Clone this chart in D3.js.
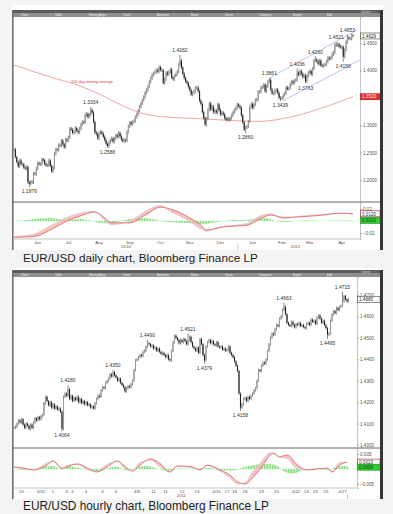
<!DOCTYPE html>
<html>
<head>
<meta charset="utf-8">
<script src="https://cdn.jsdelivr.net/npm/d3@7"></script>
<style>
  html, body { margin: 0; padding: 0; background: #f4f4f4; }
  svg { display: block; }
  text { font-family: "Liberation Sans", Arial, sans-serif; }
</style>
</head>
<body>
<svg id="chart" width="393" height="514"></svg>
<script>
// ---------- daily chart data ----------
const dailyStart = "2010-05-21";
const dailyClose = [
  1.2560,
  1.2420, 1.2330, 1.2250, 1.2360, 1.2290,   // May 24
  1.2290, 1.2230, 1.2210, 1.2240, 1.1960,   // May 31
  1.1930, 1.1970, 1.1960, 1.2120, 1.2110,   // Jun 7
  1.2210, 1.2310, 1.2290, 1.2290, 1.2380,   // Jun 14
  1.2360, 1.2290, 1.2270, 1.2270, 1.2360,   // Jun 21
  1.2260, 1.2160, 1.2230, 1.2480, 1.2560,   // Jun 28
  1.2550, 1.2640, 1.2630, 1.2720, 1.2650,   // Jul 5
  1.2600, 1.2740, 1.2720, 1.2780, 1.2940,   // Jul 12
  1.2920, 1.2860, 1.2880, 1.2950, 1.2900,   // Jul 19
  1.2870, 1.2940, 1.3020, 1.3060, 1.3050,   // Jul 26
  1.3190, 1.3210, 1.3150, 1.3190, 1.3280,   // Aug 2
  1.3230, 1.3060, 1.2870, 1.2840, 1.2760,   // Aug 9
  1.2860, 1.2880, 1.2850, 1.2790, 1.2730,   // Aug 16
  1.2660, 1.2620, 1.2680, 1.2730, 1.2760,   // Aug 23
  1.2700, 1.2760, 1.2820, 1.2790, 1.2860,   // Aug 30
  1.2800, 1.2740, 1.2710, 1.2730, 1.2720,   // Sep 6
  1.2880, 1.2980, 1.3050, 1.3020, 1.3060,   // Sep 13
  1.3080, 1.3150, 1.3200, 1.3270, 1.3340,   // Sep 20
  1.3400, 1.3460, 1.3520, 1.3600, 1.3640,   // Sep 27
  1.3710, 1.3790, 1.3860, 1.3920, 1.3950,   // Oct 4
  1.3970, 1.4010, 1.3980, 1.4060, 1.4010,   // Oct 11
  1.4000, 1.3770, 1.3840, 1.3960, 1.3930,   // Oct 18
  1.3970, 1.4020, 1.3870, 1.3840, 1.3900,   // Oct 25
  1.3930, 1.3980, 1.4110, 1.4180, 1.4050,   // Nov 1
  1.3940, 1.3860, 1.3800, 1.3770, 1.3700,   // Nov 8
  1.3640, 1.3560, 1.3590, 1.3620, 1.3680,   // Nov 15
  1.3690, 1.3620, 1.3450, 1.3390, 1.3240,   // Nov 22
  1.3130, 1.3010, 1.3120, 1.3280, 1.3400,   // Nov 29
  1.3290, 1.3340, 1.3240, 1.3270, 1.3230,   // Dec 6
  1.3380, 1.3280, 1.3200, 1.3230, 1.3200,   // Dec 13
  1.3130, 1.3100, 1.3120, 1.3100, 1.3130,   // Dec 20
  1.3180, 1.3240, 1.3280, 1.3310, 1.3380,   // Dec 27
  1.3350, 1.3320, 1.3180, 1.3050, 1.2920,   // Jan 3
  1.2960, 1.2980, 1.3070, 1.3330, 1.3390,   // Jan 10
  1.3320, 1.3380, 1.3460, 1.3470, 1.3610,   // Jan 17
  1.3610, 1.3690, 1.3700, 1.3740, 1.3620,   // Jan 24
  1.3710, 1.3800, 1.3830, 1.3650, 1.3580,   // Jan 31
  1.3580, 1.3630, 1.3650, 1.3590, 1.3500,   // Feb 7
  1.3490, 1.3500, 1.3550, 1.3580, 1.3690,   // Feb 14
  1.3660, 1.3680, 1.3750, 1.3800, 1.3770,   // Feb 21
  1.3810, 1.3830, 1.3960, 1.3920, 1.3990,   // Feb 28
  1.3940, 1.3880, 1.3910, 1.3800, 1.3900,   // Mar 7
  1.3960, 1.3990, 1.3930, 1.4030, 1.4180,   // Mar 14
  1.4200, 1.4170, 1.4120, 1.4180, 1.4090,   // Mar 21
  1.4080, 1.4100, 1.4110, 1.4160, 1.4230,   // Mar 28
  1.4210, 1.4230, 1.4300, 1.4330, 1.4470,   // Apr 4
  1.4460, 1.4480, 1.4440, 1.4420, 1.4430,   // Apr 11
  1.4250, 1.4370, 1.4520, 1.4600, 1.4580,   // Apr 18
  1.4580, 1.4640, 1.4629                    // Apr 25
];
// labelled highs / lows: [bar index, value, side]
const dailyMarks = [
  [11, 1.1876, "below"], [55, 1.3334, "above"], [67, 1.2588, "below"],
  [119, 1.4282, "above"], [166, 1.2860, "below"], [183, 1.3861, "above"],
  [191, 1.3439, "below"], [203, 1.4036, "above"], [209, 1.3763, "below"],
  [216, 1.4260, "above"], [231, 1.4521, "above"], [236, 1.4158, "below"],
  [239, 1.4653, "above"]
];
const dailyMAIdx = [0, 26, 47, 62, 76, 90, 105, 133, 162, 176, 198, 227, 243];
const dailyMA    = [1.410, 1.388, 1.372, 1.356, 1.338, 1.323, 1.316, 1.312, 1.308, 1.307, 1.315, 1.337, 1.352];
const dailyChannels = [[[183, 1.3861], [246, 1.4740]], [[193, 1.3450], [248, 1.4190]]];
const dailyPriceTicks = [1.20, 1.25, 1.30, 1.40, 1.45];
const dailyIndIdx = [0, 14, 26, 38, 47, 58, 65, 70, 83, 94, 105, 112, 119, 126, 133, 138, 144, 150, 167, 176, 184, 193, 205, 222, 234, 243];
const dailySignal = [-0.027, -0.026, -0.015, 0.000, 0.008, 0.015, 0.005, -0.003, -0.003, 0.010, 0.023, 0.020, 0.014, 0.005, -0.005, -0.015, -0.013, -0.010, -0.007, 0.003, 0.010, 0.006, 0.007, 0.010, 0.013, 0.012];
const dailyMacd   = [-0.026, -0.022, -0.008, 0.006, 0.013, 0.016, 0.001, -0.006, 0.000, 0.016, 0.026, 0.016, 0.008, -0.001, -0.012, -0.017, -0.012, -0.009, -0.004, 0.008, 0.012, 0.004, 0.008, 0.011, 0.013, 0.012];
const dailyHistIdx = [0, 11, 19, 26, 33, 40, 47, 54, 62, 69, 76, 87, 94, 101, 108, 119, 130, 137, 144, 151, 158, 166, 173, 180, 187, 194, 201, 212, 223, 234, 243];
const dailyHist    = [0, 0.002, 0.004, 0.005, 0.003, 0.002, 0.003, 0.001, -0.003, -0.004, 0, 0.004, 0.005, 0.002, -0.001, -0.003, -0.004, -0.005, -0.002, 0, 0.002, 0.001, 0.004, 0.005, 0, -0.002, 0, 0.001, 0, 0.001, 0.001];
const dailyIndTicks = [-0.02, 0.02];

// ---------- hourly chart data ----------
const hourlyClose = [
  1.4080, 1.4085, 1.4100, 1.4115, 1.4105, 1.4120, 1.4095, 1.4080, 1.4100, 1.4090,
  1.4075, 1.4095, 1.4080, 1.4105, 1.4125, 1.4115, 1.4130, 1.4120, 1.4135, 1.4140,
  1.4195, 1.4225, 1.4205, 1.4185, 1.4200, 1.4175, 1.4190, 1.4170, 1.4180, 1.4165,
  1.4170, 1.4155, 1.4075, 1.4225, 1.4240, 1.4230, 1.4260, 1.4215, 1.4230, 1.4205,
  1.4220, 1.4210, 1.4225, 1.4200, 1.4215, 1.4195, 1.4205, 1.4190, 1.4200, 1.4185,
  1.4190, 1.4175, 1.4180, 1.4170, 1.4195, 1.4215, 1.4230, 1.4225, 1.4255, 1.4270,
  1.4265, 1.4290, 1.4300, 1.4310, 1.4330, 1.4320, 1.4340, 1.4325, 1.4315, 1.4300,
  1.4310, 1.4290, 1.4280, 1.4270, 1.4250, 1.4265, 1.4275, 1.4270, 1.4285, 1.4300,
  1.4350, 1.4395, 1.4400, 1.4410, 1.4420, 1.4415, 1.4435, 1.4440, 1.4460, 1.4475,
  1.4470, 1.4460, 1.4465, 1.4450, 1.4455, 1.4440, 1.4450, 1.4435, 1.4425, 1.4430,
  1.4420, 1.4410, 1.4420, 1.4400, 1.4395, 1.4440, 1.4480, 1.4510, 1.4500, 1.4490,
  1.4475, 1.4490, 1.4480, 1.4495, 1.4485, 1.4470, 1.4490, 1.4505, 1.4480, 1.4460,
  1.4450, 1.4440, 1.4455, 1.4430, 1.4495, 1.4470, 1.4420, 1.4395, 1.4460, 1.4480,
  1.4490, 1.4475, 1.4485, 1.4470, 1.4465, 1.4480, 1.4460, 1.4455, 1.4460, 1.4445,
  1.4450, 1.4440, 1.4445, 1.4460, 1.4430, 1.4420, 1.4410, 1.4390, 1.4370, 1.4345,
  1.4240, 1.4175, 1.4190, 1.4215, 1.4220, 1.4205, 1.4225, 1.4215, 1.4230, 1.4240,
  1.4255, 1.4265, 1.4300, 1.4350, 1.4345, 1.4370, 1.4385, 1.4380, 1.4400, 1.4440,
  1.4470, 1.4500, 1.4520, 1.4515, 1.4540, 1.4560, 1.4555, 1.4590, 1.4600, 1.4630,
  1.4645, 1.4610, 1.4570, 1.4560, 1.4555, 1.4575, 1.4560, 1.4550, 1.4565, 1.4560,
  1.4570, 1.4555, 1.4560, 1.4550, 1.4545, 1.4565, 1.4570, 1.4560, 1.4585, 1.4575,
  1.4580, 1.4565, 1.4595, 1.4605, 1.4590, 1.4570, 1.4580, 1.4560, 1.4545, 1.4515,
  1.4520, 1.4580, 1.4610, 1.4625, 1.4615, 1.4640, 1.4630, 1.4645, 1.4650, 1.4670,
  1.4695, 1.4680, 1.4670, 1.4680
];
const hourlyMarks = [
  [32, 1.4064, "below"], [36, 1.4280, "above"], [66, 1.4350, "above"],
  [89, 1.4490, "above"], [116, 1.4521, "above"], [127, 1.4379, "below"],
  [151, 1.4158, "below"], [180, 1.4663, "above"], [209, 1.4495, "below"],
  [219, 1.4715, "above"]
];
const hourlyTicks = [
  ["20", 5], ["3/31", 18], ["1", 26], ["3", 35], ["4", 39], ["4", 48], ["4", 59], ["6", 68],
  ["4/8", 82], ["11", 93], ["11", 101], ["12", 112], ["13", 122], ["4/15", 135], ["17", 142],
  ["18", 147], ["18", 154], ["19", 165], ["20", 175], ["4/22", 188], ["24", 195], ["25", 201],
  ["25", 208], ["4/27", 219]
];
const hourlyPriceTicks = [1.40, 1.41, 1.42, 1.43, 1.44, 1.45, 1.46, 1.47];
const hourlyIndIdx = [0, 6, 13, 22, 26, 32, 35, 42, 49, 55, 62, 69, 73, 79, 84, 91, 97, 104, 109, 119, 124, 129, 135, 139, 144, 149, 154, 159, 165, 171, 173, 177, 182, 189, 195, 202, 209, 212, 217, 222];
const hourlySignal = [0.0007, 0.0003, -0.0003, 0.0013, 0.0027, 0.0003, 0.0007, 0.0017, 0.0003, -0.0010, 0.0007, 0.0027, 0.0013, -0.0007, 0.0013, 0.0033, 0.0020, -0.0010, 0.0010, 0.0007, -0.0003, 0.0013, 0.0003, -0.0007, -0.0020, -0.0043, -0.0050, -0.0030, 0.0007, 0.0047, 0.0053, 0.0040, 0.0047, 0.0013, -0.0003, 0.0000, 0.0003, -0.0010, 0.0013, 0.0023];
const hourlyMacd   = [0.0008, 0.0000, -0.0002, 0.0020, 0.0025, -0.0002, 0.0012, 0.0015, -0.0002, -0.0008, 0.0015, 0.0025, 0.0005, -0.0004, 0.0022, 0.0030, 0.0008, -0.0010, 0.0010, 0.0004, -0.0002, 0.0012, -0.0002, -0.0012, -0.0030, -0.0050, -0.0045, -0.0010, 0.0025, 0.0055, 0.0050, 0.0040, 0.0035, 0.0000, -0.0003, 0.0002, 0.0001, -0.0008, 0.0022, 0.0023];
const hourlyHistIdx = [0, 10, 20, 26, 32, 36, 42, 50, 57, 62, 68, 75, 82, 89, 95, 103, 110, 120, 130, 140, 148, 155, 163, 170, 176, 180, 186, 192, 200, 210, 215, 220, 223];
const hourlyHist    = [0, -0.0003, 0.0008, 0.0010, -0.0003, 0.0010, 0.0004, -0.0003, -0.0008, 0.0002, 0.0008, -0.0005, 0.0006, 0.0010, 0.0002, -0.0006, 0.0002, 0.0001, 0.0003, -0.0005, -0.0003, 0.0008, 0.0015, 0.0017, 0.0008, -0.0008, -0.0015, -0.0005, 0.0001, -0.0004, 0.0008, 0.0010, 0.0006];
const hourlyIndTicks = [-0.005, 0.005];

const toolbarLabels = ["Chart", "Table", "Moving Avgs", "Track", "Annotate", "News", "Zoom", "Compare", "Export", "Edit"];

const svg = d3.select("#chart");
const fmt4 = d3.format(".4f");
const defs = svg.append("defs");

// hatch for the histogram
defs.append("pattern").attr("id", "hatch").attr("patternUnits", "userSpaceOnUse")
  .attr("width", 1.6).attr("height", 10)
  .append("rect").attr("width", 0.7).attr("height", 10).attr("fill", "#6ad86a");

function drawChart(c) {
  const g = svg.append("g");
  const W = c.right - c.left;

  g.append("rect").attr("x", c.left).attr("y", c.top).attr("width", W).attr("height", c.bottom - c.top).attr("fill", "#fff");

  // toolbar
  g.append("rect").attr("x", c.left + 1).attr("y", c.toolbarY).attr("width", W - 1).attr("height", 3).attr("fill", "#5c5c5c");
  g.append("rect").attr("x", c.left + 1).attr("y", c.toolbarY + 3).attr("width", W - 1).attr("height", 4).attr("fill", "#8f8f8f");
  toolbarLabels.forEach((t, k) => {
    g.append("text").attr("x", c.left + 9 + k * 34).attr("y", c.toolbarY + 6.2)
      .attr("font-size", 3).attr("fill", "#eeeeee").text(t);
  });
  g.append("text").attr("x", c.right - 22).attr("y", c.toolbarY + 2.5)
    .attr("font-size", 2.8).attr("fill", "#dddddd").text("Options  ▫ ▫ ▫");

  // borders
  g.append("rect").attr("x", c.left).attr("y", c.toolbarY).attr("width", 1.6).attr("height", c.bottom - c.toolbarY).attr("fill", "#6f6f6f");
  g.append("rect").attr("x", c.right - 3).attr("y", c.toolbarY).attr("width", 3).attr("height", c.bottom - c.toolbarY).attr("fill", "#363636");

  const x = d3.scaleLinear().domain([0, c.closes.length - 1]).range(c.xRange);
  const y = d3.scaleLinear().domain(c.priceDomain).range([c.plotBottom, c.plotTop]);
  const yi = d3.scaleLinear().domain(c.indDomain).range([c.indBottom, c.plotBottom]);

  const clipId = "clip" + c.id;
  defs.append("clipPath").attr("id", clipId).append("rect")
    .attr("x", c.left + 1.6).attr("y", c.plotTop).attr("width", c.axisX - c.left - 1.6).attr("height", c.plotBottom - c.plotTop);
  const plot = g.append("g").attr("clip-path", `url(#${clipId})`);

  // moving average
  if (c.ma) {
    const maPts = c.maIdx.map((d, k) => [d, c.ma[k]]);
    plot.append("path").datum(maPts)
      .attr("d", d3.line().x(d => x(d[0])).y(d => y(d[1])).curve(d3.curveMonotoneX))
      .attr("fill", "none").attr("stroke", "#f3a4a4").attr("stroke-width", 1.0);
    // label
    const li = 56;
    const k = d3.bisectLeft(c.maIdx, li);
    const t = (li - c.maIdx[k - 1]) / (c.maIdx[k] - c.maIdx[k - 1]);
    const mv = c.ma[k - 1] + t * (c.ma[k] - c.ma[k - 1]);
    g.append("text").attr("x", x(li)).attr("y", y(mv) - 8).attr("text-anchor", "middle")
      .attr("font-size", 3.8).attr("fill", "#e23a3a").text("200 day moving average");
  }

  // channel lines
  (c.channels || []).forEach(ch => {
    plot.append("line")
      .attr("x1", x(ch[0][0])).attr("y1", y(ch[0][1]))
      .attr("x2", x(ch[1][0])).attr("y2", y(ch[1][1]))
      .attr("stroke", "#a8a8e6").attr("stroke-width", 0.7);
  });

  // candles
  const markAt = new Map(c.marks.map(m => [m[0], m]));
  const bars = c.closes.map((cl, i) => {
    const o = i ? c.closes[i - 1] : cl;
    let hi = Math.max(o, cl) + c.wick, lo = Math.min(o, cl) - c.wick;
    const m = markAt.get(i);
    if (m) { if (m[2] === "above") hi = Math.max(hi, m[1]); else lo = Math.min(lo, m[1]); }
    return { i, o, c: cl, hi, lo };
  });
  plot.selectAll(".wick").data(bars).join("line")
    .attr("x1", d => x(d.i)).attr("x2", d => x(d.i))
    .attr("y1", d => y(d.hi)).attr("y2", d => y(d.lo))
    .attr("stroke", "#3a3a3a").attr("stroke-width", 0.6);
  plot.selectAll(".body").data(bars).join("rect")
    .attr("x", d => x(d.i) - 0.55).attr("width", 1.1)
    .attr("y", d => y(Math.max(d.o, d.c)))
    .attr("height", d => Math.max(0.6, y(Math.min(d.o, d.c)) - y(Math.max(d.o, d.c))))
    .attr("fill", d => d.c >= d.o ? "#9a9a9a" : "#1e1e1e");

  // high / low labels
  g.selectAll(".mark").data(c.marks).join("text")
    .attr("x", d => x(d[0])).attr("y", d => d[2] === "above" ? y(d[1]) - 2.6 : y(d[1]) + 6.2)
    .attr("text-anchor", "middle").attr("font-size", 5).attr("fill", "#333")
    .text(d => fmt4(d[1]));

  // dividers
  g.append("line").attr("x1", c.left + 1).attr("x2", c.right - 3).attr("y1", c.plotBottom).attr("y2", c.plotBottom)
    .attr("stroke", "#555").attr("stroke-width", 0.9);
  g.append("line").attr("x1", c.left + 1).attr("x2", c.axisX).attr("y1", c.indBottom).attr("y2", c.indBottom)
    .attr("stroke", "#9a9a9a").attr("stroke-width", 0.6);

  // price axis
  const ax = g.append("g").attr("transform", `translate(${c.axisX},0)`)
    .call(d3.axisRight(y).tickValues(c.priceTicks).tickSize(2).tickPadding(1).tickFormat(fmt4));
  ax.select(".domain").attr("stroke", "#9a9a9a").attr("stroke-width", 0.6);
  ax.selectAll(".tick line").attr("stroke", "#777").attr("stroke-width", 0.5);
  ax.selectAll(".tick text").attr("font-size", 4.6).attr("fill", "#555").attr("font-family", "Liberation Sans, Arial, sans-serif");

  const boxW = c.right - 3 - c.axisX - 0.5;
  function valueBox(v, scale, fill, stroke, color) {
    const yy = scale(v);
    g.append("rect").attr("x", c.axisX + 0.5).attr("y", yy - 3).attr("width", boxW).attr("height", 6)
      .attr("fill", fill).attr("stroke", stroke).attr("stroke-width", 0.6);
    g.append("text").attr("x", c.axisX + 2).attr("y", yy + 1.7).attr("font-size", 4.6).attr("fill", color).text(fmt4(v));
  }
  if (c.ma) valueBox(c.ma[c.ma.length - 1], y, "#e8312f", "#9c1a1a", "#ffe0e0");
  valueBox(c.closes[c.closes.length - 1], y, "#ffffff", "#444", "#222");

  // indicator panel
  const ind = g.append("g");
  ind.append("line").attr("x1", c.left + 2).attr("x2", c.axisX).attr("y1", yi(0)).attr("y2", yi(0))
    .attr("stroke", "#9be49b").attr("stroke-width", 0.5).attr("stroke-dasharray", "1,1");
  const histPts = c.histIdx.map((d, k) => [d, c.hist[k]]);
  const histArea = d3.area().x(d => x(d[0])).y0(yi(0)).y1(d => yi(d[1])).curve(d3.curveMonotoneX);
  ind.append("path").datum(histPts).attr("d", histArea).attr("fill", "#d4f5cf");
  ind.append("path").datum(histPts).attr("d", histArea).attr("fill", "url(#hatch)");
  const pts = c.indIdx.map((d, k) => ({ i: d, s: c.signal[k], m: c.macd[k] }));
  ind.append("path").datum(pts)
    .attr("d", d3.area().x(d => x(d.i)).y0(d => yi(d.s)).y1(d => yi(d.m)).curve(d3.curveMonotoneX))
    .attr("fill", "#f3b9b9").attr("opacity", 0.85);
  ind.append("path").datum(pts)
    .attr("d", d3.line().x(d => x(d.i)).y(d => yi(d.m)).curve(d3.curveMonotoneX))
    .attr("fill", "none").attr("stroke", "#d2d2d2").attr("stroke-width", 0.9);
  ind.append("path").datum(pts)
    .attr("d", d3.line().x(d => x(d.i)).y(d => yi(d.s)).curve(d3.curveMonotoneX))
    .attr("fill", "none").attr("stroke", "#ea6a6a").attr("stroke-width", 0.9);

  const iax = g.append("g").attr("transform", `translate(${c.axisX},0)`)
    .call(d3.axisRight(yi).tickValues(c.indTicks).tickSize(2).tickPadding(1).tickFormat(d3.format(c.indFmt)));
  iax.select(".domain").attr("stroke", "#9a9a9a").attr("stroke-width", 0.6);
  iax.selectAll(".tick line").attr("stroke", "#777").attr("stroke-width", 0.5);
  iax.selectAll(".tick text").attr("font-size", 4.6).attr("fill", "#555").attr("font-family", "Liberation Sans, Arial, sans-serif");
  valueBox(c.signal[c.signal.length - 1], yi, "#ffffff", "#8a1e1e", "#333");
  valueBox(c.hist[c.hist.length - 1], yi, "#2fd12f", "#1c8a1c", "#0b3a0b");

  // x labels
  c.xLabels.forEach(l => {
    g.append("text").attr("x", x(l[1])).attr("y", c.indBottom + 4.6).attr("text-anchor", "middle")
      .attr("font-size", 4.4).attr("fill", "#555").text(l[0]);
  });
  c.yearLabels.forEach(l => {
    g.append("text").attr("x", l[1]).attr("y", c.indBottom + 9.2).attr("text-anchor", "middle")
      .attr("font-size", 4.4).attr("fill", "#555").text(l[0]);
  });
  (c.yearSeps || []).forEach(sx => {
    g.append("line").attr("x1", sx).attr("x2", sx).attr("y1", c.indBottom + 5.5).attr("y2", c.bottom)
      .attr("stroke", "#aaa").attr("stroke-width", 0.6);
  });

  // caption
  const cap = svg.append("text").attr("x", 23).attr("y", c.captionY)
    .attr("font-family", "Lato, 'Open Sans', sans-serif").attr("font-size", 11.5).attr("fill", "#1c1c1c")
    .text(c.caption);
  const len = cap.node().getComputedTextLength();
  cap.attr("font-size", 11.5 * c.captionW / len);

  return x;
}

// ---- daily: dates for month labels ----
const parse = d3.timeParse("%Y-%m-%d");
const dailyDates = [];
for (let d = parse(dailyStart); dailyDates.length < dailyClose.length; d = d3.timeDay.offset(d, 1)) {
  if (d.getDay() !== 0 && d.getDay() !== 6) dailyDates.push(d);
}
const bis = d3.bisector(d => d).left;
const monthLabels = d3.timeMonth.range(d3.timeMonth.ceil(dailyDates[0]), dailyDates[dailyDates.length - 1])
  .map(m => [d3.timeFormat("%b")(m), bis(dailyDates, d3.timeDay.offset(m, 14))]);

const dxDaily = d3.scaleLinear().domain([0, dailyClose.length - 1]).range([14, 353]);
const splitIdx = bis(dailyDates, new Date(2011, 0, 1));
const sepX = (dxDaily(splitIdx - 1) + dxDaily(splitIdx)) / 2;

drawChart({
  id: "d", top: 5, bottom: 250, left: 12, right: 383, toolbarY: 10,
  plotTop: 17, plotBottom: 202, indBottom: 239, axisX: 360, xRange: [14, 353],
  priceDomain: [1.16, 1.4975], indDomain: [-0.03, 0.0317], wick: 0.003,
  closes: dailyClose, marks: dailyMarks, ma: dailyMA, maIdx: dailyMAIdx, channels: dailyChannels,
  priceTicks: dailyPriceTicks, indIdx: dailyIndIdx, signal: dailySignal, macd: dailyMacd,
  histIdx: dailyHistIdx, hist: dailyHist, indTicks: dailyIndTicks, indFmt: ".2f",
  xLabels: monthLabels,
  yearLabels: [["2010", (dxDaily(0) + sepX) / 2], ["2011", (sepX + dxDaily(dailyClose.length - 1)) / 2]],
  yearSeps: [sepX],
  caption: "EUR/USD daily chart, Bloomberg Finance LP", captionY: 262, captionW: 235
});

const dxHourly = d3.scaleLinear().domain([0, hourlyClose.length - 1]).range([14, 348.5]);
drawChart({
  id: "h", top: 268, bottom: 499, left: 12, right: 383, toolbarY: 270,
  plotTop: 277, plotBottom: 448, indBottom: 488, axisX: 357, xRange: [14, 348.5],
  priceDomain: [1.3986, 1.4784], indDomain: [-0.00633, 0.007], wick: 0.0006,
  closes: hourlyClose, marks: hourlyMarks, channels: [],
  priceTicks: hourlyPriceTicks, indIdx: hourlyIndIdx, signal: hourlySignal, macd: hourlyMacd,
  histIdx: hourlyHistIdx, hist: hourlyHist, indTicks: hourlyIndTicks, indFmt: ".3f",
  xLabels: hourlyTicks,
  yearLabels: [["2011", (dxHourly(0) + dxHourly(hourlyClose.length - 1)) / 2]],
  yearSeps: [dxHourly(hourlyClose.length - 1) - 1],
  caption: "EUR/USD hourly chart, Bloomberg Finance LP", captionY: 510, captionW: 246
});
</script>
</body>
</html>
